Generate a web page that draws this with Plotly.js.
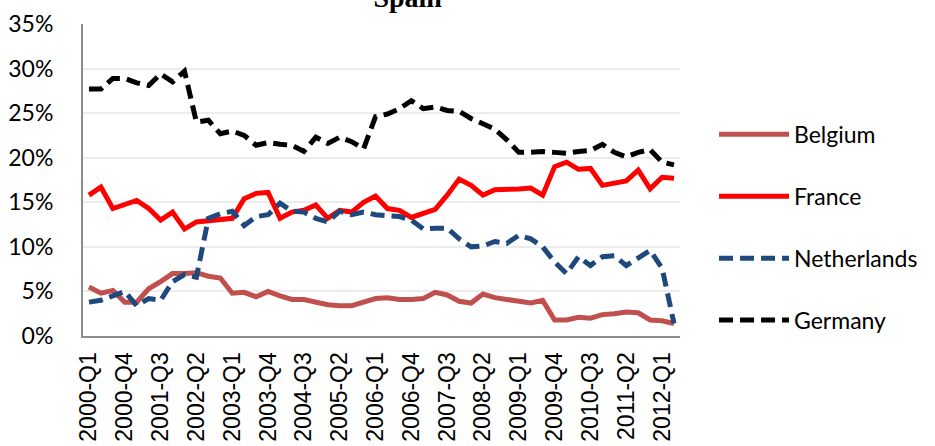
<!DOCTYPE html>
<html><head><meta charset="utf-8">
<script src="https://cdn.plot.ly/plotly-3.0.1.min.js"></script>
<style>html,body{margin:0;padding:0;background:#fff;}#chart{width:935px;height:446px;}</style>
</head><body><div id="chart"></div>
<script>
const quarters = [
 "2000-Q1","2000-Q2","2000-Q3","2000-Q4","2001-Q1","2001-Q2","2001-Q3","2001-Q4",
 "2002-Q1","2002-Q2","2002-Q3","2002-Q4","2003-Q1","2003-Q2","2003-Q3","2003-Q4",
 "2004-Q1","2004-Q2","2004-Q3","2004-Q4","2005-Q1","2005-Q2","2005-Q3","2005-Q4",
 "2006-Q1","2006-Q2","2006-Q3","2006-Q4","2007-Q1","2007-Q2","2007-Q3","2007-Q4",
 "2008-Q1","2008-Q2","2008-Q3","2008-Q4","2009-Q1","2009-Q2","2009-Q3","2009-Q4",
 "2010-Q1","2010-Q2","2010-Q3","2010-Q4","2011-Q1","2011-Q2","2011-Q3","2011-Q4",
 "2012-Q1","2012-Q2"];
const tickLabels = ["2000-Q1","2000-Q4","2001-Q3","2002-Q2","2003-Q1","2003-Q4","2004-Q3",
 "2005-Q2","2006-Q1","2006-Q4","2007-Q3","2008-Q2","2009-Q1","2009-Q4","2010-Q3","2011-Q2","2012-Q1"];
const yTicks = [0,5,10,15,20,25,30,35];
const yTickText = ["0%","5%","10%","15%","20%","25%","30%","35%"];

const belgium = [5.5,4.8,5.1,3.8,3.8,5.3,6.1,7.0,7.0,7.1,6.7,6.5,4.8,4.9,4.4,5.0,
 4.5,4.1,4.1,3.8,3.5,3.4,3.4,3.8,4.2,4.3,4.1,4.1,4.2,4.9,4.6,3.9,
 3.7,4.7,4.3,4.1,3.9,3.7,4.0,1.8,1.8,2.1,2.0,2.4,2.5,2.7,2.6,1.8,1.7,1.4];
const france = [15.8,16.7,14.3,14.7,15.2,14.3,13.0,13.9,12.0,12.8,12.9,13.0,13.2,15.4,16.0,16.1,
 13.2,13.9,14.1,14.7,13.2,14.1,13.9,15.0,15.7,14.3,14.1,13.3,13.7,14.2,15.8,17.6,
 16.9,15.8,16.4,16.4,16.5,16.6,15.8,19.0,19.5,18.7,18.8,16.9,17.1,17.4,18.6,16.5,17.8,17.7];
const netherlands = [3.8,4.0,4.5,5.0,3.4,4.2,4.0,6.1,6.9,6.6,13.2,13.7,14.0,12.4,13.4,13.6,
 14.9,14.0,13.9,13.2,12.8,14.0,13.6,13.9,13.6,13.5,13.4,13.0,12.0,12.1,12.1,10.9,
 10.0,10.1,10.6,10.4,11.3,10.9,10.0,8.3,7.0,8.9,7.9,8.9,9.0,7.9,8.7,9.6,7.6,1.4];
const germany = [27.7,27.7,28.9,28.9,28.4,28.1,29.4,28.5,29.7,24.0,24.2,22.7,23.0,22.5,21.4,21.7,
 21.5,21.4,20.7,22.3,21.6,22.3,21.8,21.0,24.6,24.9,25.5,26.4,25.5,25.7,25.3,25.2,
 24.4,23.8,23.2,22.0,20.6,20.6,20.7,20.6,20.5,20.7,20.8,21.5,20.6,20.1,20.6,20.9,19.5,19.2];

const series = [
 {name:"Belgium", y:belgium, color:"#C0504D", dash:"solid"},
 {name:"France", y:france, color:"#FF0000", dash:"solid"},
 {name:"Netherlands", y:netherlands, color:"#1F497D", dash:"14px,7px"},
 {name:"Germany", y:germany, color:"#000000", dash:"14px,7px"}
];

const traces = series.map((s,i) => ({
  type:"scatter", mode:"lines", name:s.name, x:quarters, y:s.y,
  legendgroup:"g"+i,
  line:{color:s.color, width:5, dash:s.dash}
}));

const layout = {
  width:935, height:446,
  margin:{l:83, r:246, t:24, b:110, pad:0},
  paper_bgcolor:"#ffffff", plot_bgcolor:"#ffffff",
  title:{text:"<b>Spain</b>", font:{family:"Liberation Serif", size:28, color:"#000"},
    xref:"container", x:0.436, xanchor:"center", yref:"container", y:0.985, yanchor:"bottom"},
  xaxis:{type:"category", categoryorder:"array", categoryarray:quarters, range:[-0.5,49.5],
    tickmode:"array", tickvals:tickLabels, ticktext:tickLabels, tickangle:-90,
    tickfont:{family:"Liberation Sans", size:23, color:"#000"}, ticklabelstandoff:5,
    showgrid:false, showline:true, linecolor:"#8c8c8c", linewidth:2, ticks:"", zeroline:false},
  yaxis:{range:[0,35], tickmode:"array", tickvals:yTicks, ticktext:yTickText,
    showgrid:true, gridcolor:"#ececec", gridwidth:2, showline:true, linecolor:"#8c8c8c", linewidth:2,
    zeroline:false, ticks:"", ticklabelstandoff:23,
    tickfont:{family:"Lato", size:23, color:"#000"}},
  showlegend:true,
  legend:{x:1.057, xanchor:"left", y:0.715, yanchor:"top", traceorder:"grouped", tracegroupgap:29,
    itemwidth:70, font:{family:"Lato", size:23, color:"#000"}, bgcolor:"rgba(0,0,0,0)", borderwidth:0}
};

Plotly.newPlot("chart", traces, layout, {displayModeBar:false, staticPlot:true});
</script>
</body></html>
